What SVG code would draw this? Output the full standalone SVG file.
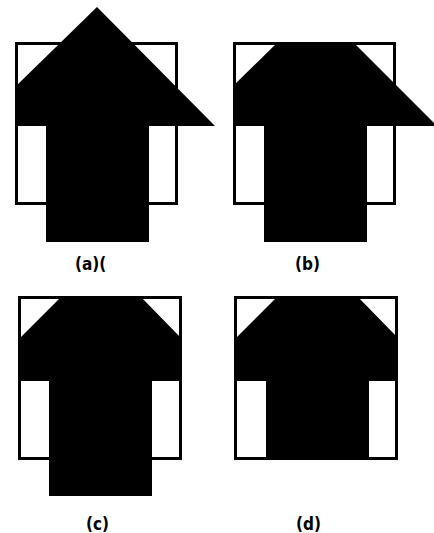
<svg xmlns="http://www.w3.org/2000/svg" width="434" height="533" viewBox="0 0 434 533">
<style>
.box{fill:#fff;stroke:#000;stroke-width:3}
.arrow{fill:#000;stroke:none}
.lbl{font-family:"DejaVu Sans Condensed","DejaVu Sans",sans-serif;font-weight:bold;font-size:17px;fill:#000}
</style>
<rect width="434" height="533" fill="#fff"/>
<g id="panel-a">
<rect class="box" x="16.5" y="43.5" width="160" height="160"/>
<polygon class="arrow" points="97,7 215,126 149,126 149,242 46,242 46,126 15,126 15,87"/>
<text class="lbl" x="75" y="270">(a)(</text>
</g>
<g id="panel-b">
<rect class="box" x="234.5" y="43.5" width="160" height="160"/>
<polygon class="arrow" points="278,42 353,42 436,125 436,126 367,126 367,242 264,242 264,126 233,126 233,86"/>
<text class="lbl" x="295" y="270">(b)</text>
</g>
<g id="panel-c">
<rect class="box" x="19.5" y="297.5" width="161" height="161"/>
<polygon class="arrow" points="61,297 141,297 181,338 181,381 152,381 152,496 49,496 49,381 19,381 19,339"/>
<text class="lbl" x="86" y="530">(c)</text>
</g>
<g id="panel-d">
<rect class="box" x="235.5" y="297.5" width="161" height="161"/>
<polygon class="arrow" points="277,297 358,297 397,337 397,381 369,381 369,459 266,459 266,381 235,381 235,339"/>
<text class="lbl" x="296" y="530">(d)</text>
</g>
<g id="connectors"/>
</svg>
